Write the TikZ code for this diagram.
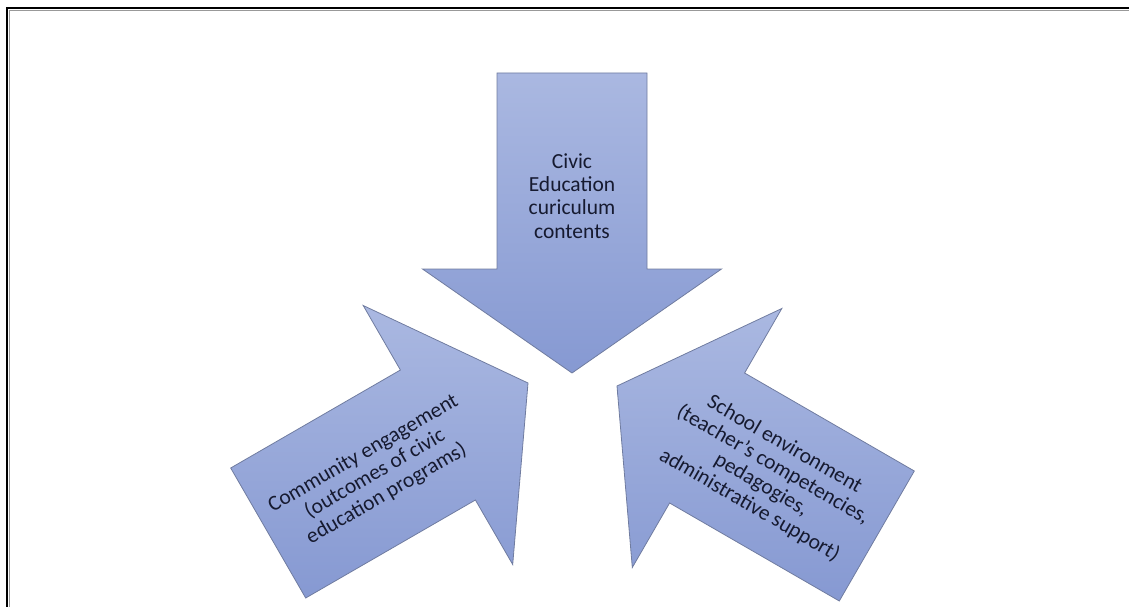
\documentclass[tikz,border=0pt]{standalone}
\usepackage{fontspec}
\setmainfont{Carlito}
\definecolor{arrowtop}{RGB}{170,184,225}
\definecolor{arrowbottom}{RGB}{134,153,210}
\definecolor{arrowedge}{RGB}{112,124,160}
\definecolor{labelink}{RGB}{22,26,48}
\tikzstyle{blockarrow} = [draw=arrowedge, line width=0.8pt, top color=arrowtop, bottom color=arrowbottom]
\tikzstyle{arrowtext} = [text=labelink, align=center, inner sep=0pt, font=\fontsize{21.5}{23.3}\selectfont]
\tikzstyle{frame} = [line width=2.5pt, black]
\tikzstyle{frameshadow} = [line width=1pt, black!40]

\begin{document}
\begin{tikzpicture}[x=1pt, y=-1pt]

\useasboundingbox (0,0) rectangle (1129,607);

% page frame (top and left only)
\draw [frameshadow] (9.5,607) -- (9.5,10.5) -- (1129,10.5);
\draw [frame] (7,607) -- (7,8) -- (1129,8);

% the three block arrows
\draw [blockarrow] (497,73) -- (647,73) -- (647,269) -- (721.5,269) -- (572,373) -- (422.5,269) -- (497,269) -- cycle;
\draw [blockarrow] (230.7,468) -- (400.4,370) -- (363.2,305.5) -- (528,383) -- (512.7,564.5) -- (475.4,500) -- (305.7,598) -- cycle;
\draw [blockarrow] (914.3,471) -- (744.6,373) -- (781.8,308.5) -- (617,386) -- (632.3,567.5) -- (669.6,503) -- (839.3,601) -- cycle;

\node (civic) [arrowtext] at (572,196) {Civic\\Education\\curiculum\\contents};
\node (community) [arrowtext, rotate=30] at (375,474) {Community engagement\\(outcomes of civic\\education programs)};
\node (school) [arrowtext, rotate=-30] at (767,475) {School environment\\(teacher's competencies,\\pedagogies,\\administrative support)};

\end{tikzpicture}
\end{document}
